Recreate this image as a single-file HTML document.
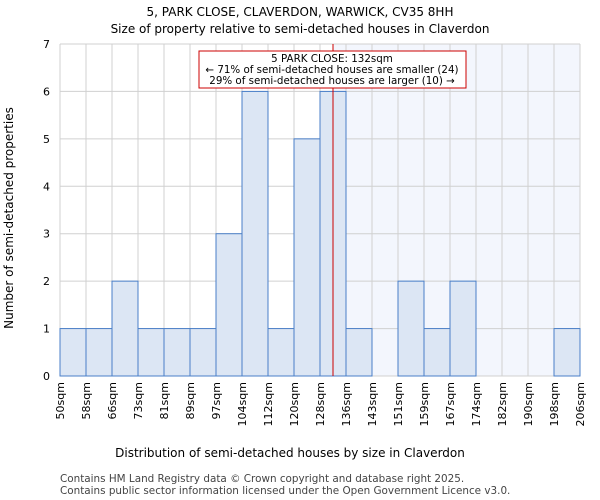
<!DOCTYPE html>
<html><head><meta charset="utf-8"><style>body{margin:0;background:#fff}svg{display:block;font-family:"DejaVu Sans","Liberation Sans",sans-serif}</style></head>
<body>
<svg id="chart" width="600" height="500">
<text x="300" y="16" text-anchor="middle" font-size="12">5, PARK CLOSE, CLAVERDON, WARWICK, CV35 8HH</text>
<text x="300" y="33" text-anchor="middle" font-size="12">Size of property relative to semi-detached houses in Claverdon</text>
<g id="plot"></g>
<text x="290" y="457" text-anchor="middle" font-size="12">Distribution of semi-detached houses by size in Claverdon</text>
<text transform="translate(13,218) rotate(-90)" text-anchor="middle" font-size="12">Number of semi-detached properties</text>
<text x="60" y="482" font-size="10.4" fill="#444">Contains HM Land Registry data © Crown copyright and database right 2025.</text>
<text x="60" y="494" font-size="10.4" fill="#444">Contains public sector information licensed under the Open Government Licence v3.0.</text>
</svg>
<script>
const categories=["50sqm","58sqm","66sqm","73sqm","81sqm","89sqm","97sqm","104sqm","112sqm","120sqm","128sqm","136sqm","143sqm","151sqm","159sqm","167sqm","174sqm","182sqm","190sqm","198sqm","206sqm"];
const counts=[1,1,2,1,1,1,3,6,1,5,6,1,0,2,1,2,0,0,0,1];
const yTicks=[0,1,2,3,4,5,6,7];
const binEdges=[50,58,66,73,81,89,97,104,112,120,128,136,143,151,159,167,174,182,190,198,206];
const propertySize=132;
const NS="http://www.w3.org/2000/svg";
const L=60,R=580,T=44,B=376,yMax=7;
const bw=(R-L)/counts.length;
const xIdx=i=>L+i*bw;
const y=v=>B-(B-T)*v/yMax;
const g=document.getElementById("plot");
function mk(t,a){const e=document.createElementNS(NS,t);for(const k in a)e.setAttribute(k,a[k]);g.appendChild(e);return e;}
let bi=0;for(let i=0;i<binEdges.length-1;i++)if(propertySize>=binEdges[i]&&propertySize<binEdges[i+1])bi=i;
const px=xIdx(bi)+bw*(propertySize-binEdges[bi])/(binEdges[bi+1]-binEdges[bi]);
let e=mk("rect",{x:px,y:T,width:R-px,height:B-T,fill:"#f3f6fd"});


for(let i=0;i<=counts.length;i++){e=mk("line",{x1:xIdx(i),x2:xIdx(i),y1:T,y2:B,stroke:"#d0d0d0","stroke-width":1});

}
yTicks.forEach(t=>{e=mk("line",{x1:L,x2:R,y1:y(t),y2:y(t),stroke:"#d0d0d0","stroke-width":1});


e=mk("text",{x:L-10,y:y(t)+4,"text-anchor":"end","font-size":11});e.textContent=t;

});
counts.forEach((c,i)=>{if(c<=0)return;e=mk("rect",{x:xIdx(i),y:y(c),width:bw,height:B-y(c),fill:"#dce6f4",stroke:"#4a7fc8","stroke-width":1});

});
categories.forEach((c,i)=>{e=mk("text",{transform:`translate(${xIdx(i)+4},382) rotate(-90)`,"text-anchor":"end","font-size":11});e.textContent=c;

});
e=mk("line",{x1:px,x2:px,y1:T,y2:B,stroke:"#cc0000","stroke-width":1});


e=mk("rect",{x:199,y:51,width:267,height:37,fill:"#fff",stroke:"#cc0000","stroke-width":1});


["5 PARK CLOSE: 132sqm","← 71% of semi-detached houses are smaller (24)","29% of semi-detached houses are larger (10) →"].forEach((s,k)=>{e=mk("text",{x:332,y:62+k*11,"text-anchor":"middle","font-size":10.3});e.textContent=s;

});
</script>
</body></html>
